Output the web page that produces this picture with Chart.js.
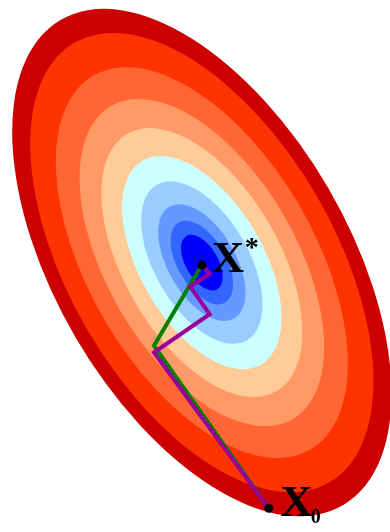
<!DOCTYPE html>
<html>
<head>
<meta charset="utf-8">
<script src="https://cdn.jsdelivr.net/npm/chart.js@4"></script>
<style>
  html, body { margin: 0; padding: 0; background: #fff; }
  #wrap { width: 390px; height: 532px; position: relative; }
</style>
</head>
<body>
<div id="wrap"><canvas id="contour"></canvas></div>
<script>
// contour ellipses (data units), outer -> inner
const ellipseCenter = [0.02, -0.015];
const semiMajor = 2.86;
const semiMinor = 1.50;
const tiltDeg = -59.6;
const levelScale = [1, 0.905, 0.77, 0.645, 0.53, 0.42, 0.32, 0.23, 0.165, 0.11];
const levelColors = ['#cc0000', '#ff3300', '#ff6633', '#ff9966', '#ffcc99',
                     '#ccffff', '#99ccff', '#6699ff', '#3366ff', '#0000ff'];

// descent paths
const startPt = [0.705, -2.515];
const optPt = [0.02, -0.04];
const greenX = [0.705, -0.47, 0.02];
const greenY = [-2.515, -0.86, -0.04];
const purpleX = [0.705, -0.47, 0.10, -0.10, 0.10, 0.02];
const purpleY = [-2.515, -0.93, -0.54, -0.26, -0.13, -0.04];

const toPts = (xs, ys) => xs.map((x, i) => ({ x: x, y: ys[i] }));

const contourPlugin = {
  id: 'contours',
  beforeDatasetsDraw(chart) {
    const { ctx, scales: { x, y } } = chart;
    const cx = x.getPixelForValue(ellipseCenter[0]);
    const cy = y.getPixelForValue(ellipseCenter[1]);
    const sx = x.getPixelForValue(1) - x.getPixelForValue(0);
    const sy = y.getPixelForValue(0) - y.getPixelForValue(1);
    ctx.save();
    ctx.translate(cx, cy);
    ctx.scale(sx, -sy);
    ctx.rotate(tiltDeg * Math.PI / 180);
    levelScale.forEach((s, i) => {
      ctx.beginPath();
      ctx.ellipse(0, 0, semiMajor * s, semiMinor * s, 0, 0, Math.PI * 2);
      ctx.fillStyle = levelColors[i];
      ctx.fill();
    });
    ctx.restore();
  },
  afterDatasetsDraw(chart) {
    const { ctx, scales: { x, y } } = chart;
    const ox = x.getPixelForValue(optPt[0]), oy = y.getPixelForValue(optPt[1]);
    const px = x.getPixelForValue(startPt[0]), py = y.getPixelForValue(startPt[1]);
    ctx.save();
    ctx.fillStyle = '#000';
    ctx.textBaseline = 'alphabetic';
    ctx.textAlign = 'left';
    ctx.font = 'bold 45px "Liberation Serif", "DejaVu Serif", serif';
    ctx.fillText('X', ox + 10, oy + 7);
    ctx.fillText('X', px + 11.5, py + 7.5);
    ctx.font = 'bold 28px "Liberation Serif", "DejaVu Serif", serif';
    ctx.fillText('*', ox + 43, oy - 9);
    ctx.font = 'bold 20px "Liberation Serif", "DejaVu Serif", serif';
    ctx.fillText('0', px + 42, py + 14.5);
    ctx.restore();
  }
};

new Chart(document.getElementById('contour'), {
  type: 'scatter',
  data: {
    datasets: [
      {
        data: [{ x: optPt[0], y: optPt[1] }, { x: startPt[0], y: startPt[1] }],
        pointRadius: 4.5,
        pointBackgroundColor: '#000',
        pointBorderWidth: 0,
        showLine: false,
        order: 0
      },
      {
        data: toPts(purpleX, purpleY),
        showLine: true,
        borderColor: '#990099',
        borderWidth: 4,
        borderJoinStyle: 'miter',
        pointRadius: 0,
        order: 1
      },
      {
        data: toPts(greenX, greenY),
        showLine: true,
        borderColor: '#008000',
        borderWidth: 4,
        borderJoinStyle: 'miter',
        pointRadius: 0,
        order: 2
      }
    ]
  },
  options: {
    responsive: true,
    maintainAspectRatio: false,
    animation: false,
    layout: { padding: 0 },
    plugins: { legend: { display: false }, tooltip: { enabled: false } },
    scales: {
      x: { type: 'linear', min: -2.0, max: 1.9, display: false },
      y: { type: 'linear', min: -2.71, max: 2.61, display: false }
    }
  },
  plugins: [contourPlugin]
});
</script>
</body>
</html>
